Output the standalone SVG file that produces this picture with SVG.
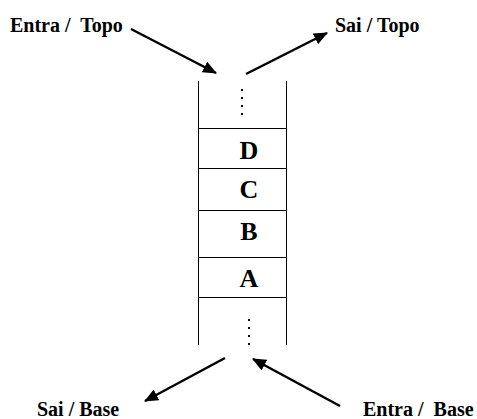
<svg xmlns="http://www.w3.org/2000/svg" width="477" height="419" viewBox="0 0 477 419">
<defs>
<marker id="ah" markerWidth="14" markerHeight="12" refX="13" refY="6" orient="auto" markerUnits="userSpaceOnUse">
<path d="M0,0 L14,6 L0,12 Z" fill="#000"/>
</marker>
<style>
.lbl{font-family:"Liberation Serif","Times New Roman",serif;font-weight:bold;font-size:20px;fill:#000;white-space:pre}
.let{font-family:"Liberation Serif","Times New Roman",serif;font-weight:bold;font-size:26px;fill:#000;text-anchor:middle}
.cell{fill:none;stroke:#000;stroke-width:1}
.dots{stroke:#000;stroke-width:2;stroke-dasharray:2 6}
.arr{stroke:#000;stroke-width:2.5;fill:none;marker-end:url(#ah)}
</style>
</defs>
<rect width="477" height="419" fill="#fff"/>
<g id="stack">
<line class="cell" x1="198.5" y1="81" x2="198.5" y2="345"/>
<line class="cell" x1="286.5" y1="81" x2="286.5" y2="345"/>
<line class="cell" x1="198" y1="128.5" x2="287" y2="128.5"/>
<line class="cell" x1="198" y1="168.5" x2="287" y2="168.5"/>
<line class="cell" x1="198" y1="210.5" x2="287" y2="210.5"/>
<line class="cell" x1="198" y1="257.5" x2="287" y2="257.5"/>
<line class="cell" x1="198" y1="297.5" x2="287" y2="297.5"/>
</g>
<g id="top-dots"><line class="dots" x1="242" y1="89" x2="242" y2="117"/></g>
<g id="bottom-dots"><line class="dots" x1="249" y1="319" x2="249" y2="349"/></g>
<g id="cell-D"><text class="let" x="249" y="159">D</text></g>
<g id="cell-C"><text class="let" x="249" y="198">C</text></g>
<g id="cell-B"><text class="let" x="249" y="240">B</text></g>
<g id="cell-A"><text class="let" x="249" y="287">A</text></g>
<g id="label-entra-topo"><text class="lbl" x="10" y="32">Entra /  Topo</text></g>
<g id="label-sai-topo"><text class="lbl" x="335" y="32">Sai / Topo</text></g>
<g id="label-sai-base"><text class="lbl" x="37" y="416">Sai / Base</text></g>
<g id="label-entra-base"><text class="lbl" x="363" y="416">Entra /  Base</text></g>
<g id="connectors">
<line class="arr" x1="131" y1="29" x2="216" y2="73"/>
<line class="arr" x1="246" y1="74" x2="327" y2="33"/>
<line class="arr" x1="225" y1="358" x2="145" y2="401"/>
<line class="arr" x1="340" y1="406" x2="253" y2="359"/>
</g>
</svg>
